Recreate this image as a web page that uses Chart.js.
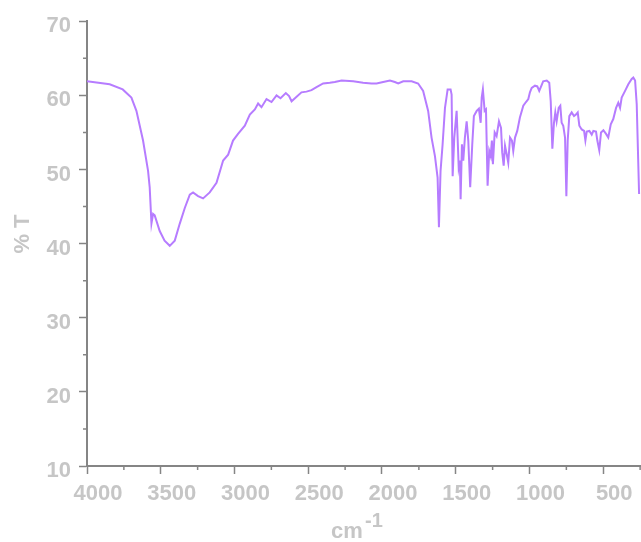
<!DOCTYPE html>
<html>
<head>
<meta charset="utf-8">
<script src="https://cdn.jsdelivr.net/npm/chart.js@4/dist/chart.umd.min.js"></script>
<style>
  html, body { margin: 0; padding: 0; background: #fff; }
  canvas { display: block; }
</style>
</head>
<body>
<canvas id="irChart" width="641" height="542"></canvas>
<script>
// wavenumber (cm-1)
var waveNumbers = [
  4000, 3846, 3758, 3699, 3665, 3620, 3586, 3575, 3563, 3552, 3541, 3507, 3474, 3439, 3405,
  3371, 3337, 3303, 3281, 3247, 3213, 3168, 3122, 3077, 3043, 3010, 2976, 2930, 2896, 2862,
  2840, 2817, 2783, 2749, 2715, 2688, 2652, 2630, 2613, 2579, 2546, 2512, 2478, 2444, 2399,
  2354, 2320, 2274, 2195, 2128, 2071, 2037, 1992, 1946, 1913, 1890, 1856, 1799, 1755, 1721,
  1687, 1664, 1641, 1623, 1614, 1603, 1589, 1573, 1555, 1535, 1528, 1521, 1510, 1494, 1480,
  1472, 1467, 1458, 1449, 1438, 1426, 1415, 1402, 1388, 1377, 1358, 1343, 1331, 1324, 1316,
  1304, 1295, 1284, 1273, 1263, 1255, 1248, 1236, 1223, 1207, 1193, 1185, 1175, 1166, 1155,
  1144, 1132, 1119, 1110, 1098, 1083, 1065, 1042, 1024, 1008, 997, 985, 963, 947, 934,
  917, 907, 883, 866, 856, 845, 834, 825, 816, 802, 791, 782, 771, 759, 750,
  741, 730, 714, 698, 685, 673, 662, 646, 630, 621, 612, 594, 578, 567, 549,
  540, 527, 515, 499, 481, 466, 449, 432, 413, 398, 386, 375, 352, 330, 307,
  296, 284, 273, 257
];
// % transmittance at each wavenumber
var transmittance = [
  61.9, 61.5, 60.8, 59.7, 57.9, 53.9, 49.8, 47.6, 42.7, 44.0, 43.8, 41.7, 40.4, 39.7, 40.4,
  42.7, 44.8, 46.6, 46.9, 46.4, 46.1, 46.9, 48.2, 51.2, 52.0, 53.9, 54.8, 55.9, 57.4, 58.1,
  58.9, 58.4, 59.5, 59.1, 60.0, 59.6, 60.3, 59.9, 59.2, 59.8, 60.4, 60.5, 60.7, 61.1, 61.6,
  61.7, 61.8, 62.0, 61.9, 61.7, 61.6, 61.6, 61.8, 62.0, 61.8, 61.6, 61.9, 61.9, 61.6, 60.6,
  57.9, 54.3, 51.8, 48.9, 42.2, 49.8, 53.4, 58.3, 60.8, 60.8, 60.1, 49.1, 54.3, 57.9, 50.3,
  51.2, 46.0, 53.4, 51.2, 54.3, 56.5, 53.9, 47.6, 53.4, 57.2, 57.9, 58.2, 56.3, 59.7, 60.8,
  57.9, 58.1, 47.8, 52.5, 51.8, 53.9, 50.7, 55.0, 54.5, 56.5, 55.6, 52.3, 50.5, 53.2, 52.1,
  50.9, 54.3, 53.9, 52.5, 54.3, 55.2, 57.0, 58.6, 59.1, 59.5, 60.4, 61.0, 61.3, 61.2, 60.6,
  61.4, 61.9, 62.0, 61.7, 59.2, 52.8, 56.3, 57.7, 56.5, 58.3, 58.6, 56.3, 55.9, 54.3, 46.4,
  53.9, 57.2, 57.7, 57.2, 57.4, 57.7, 55.9, 55.4, 55.2, 53.9, 55.1, 55.2, 54.7, 55.2, 55.1,
  53.9, 52.6, 55.0, 55.3, 54.8, 54.3, 56.1, 56.8, 58.3, 59.0, 58.3, 59.7, 60.6, 61.5, 62.2,
  62.4, 62.0, 58.8, 46.7
];
var xTicks = [4000, 3500, 3000, 2500, 2000, 1500, 1000, 500];
var yTicks = [10, 20, 30, 40, 50, 60, 70];
var xMinorTicks = [3750, 3250, 2750, 2250, 1750, 1250, 750, 250];
var yMinorTicks = [15, 25, 35, 45, 55, 65];

var points = [];
for (var i = 0; i < waveNumbers.length; i++) {
  points.push({ x: waveNumbers[i], y: transmittance[i] });
}

var axisColor = '#858585';
var labelColor = '#c6c6c6';

// minor ticks and axis titles
var extras = {
  id: 'extras',
  afterDraw: function (chart) {
    var ctx = chart.ctx;
    var xs = chart.scales.x, ys = chart.scales.y;
    ctx.save();
    ctx.strokeStyle = axisColor;
    ctx.lineWidth = 1.5;
    ctx.beginPath();
    xMinorTicks.forEach(function (v) {
      if (v < xs.min || v > xs.max) return;
      var px = xs.getPixelForValue(v);
      ctx.moveTo(px, ys.bottom);
      ctx.lineTo(px, ys.bottom + 4);
    });
    yMinorTicks.forEach(function (v) {
      var py = ys.getPixelForValue(v);
      ctx.moveTo(xs.left, py);
      ctx.lineTo(xs.left - 4, py);
    });
    ctx.stroke();

    ctx.fillStyle = labelColor;
    ctx.font = 'bold 22px "Liberation Sans", Arial, sans-serif';
    ctx.textAlign = 'left';
    ctx.textBaseline = 'alphabetic';
    ctx.fillText('cm', 331, 538);
    ctx.font = 'bold 20px "Liberation Sans", Arial, sans-serif';
    ctx.fillText('-1', 365, 527);

    ctx.translate(29, 234);
    ctx.rotate(-Math.PI / 2);
    ctx.font = 'bold 22px "Liberation Sans", Arial, sans-serif';
    ctx.textAlign = 'center';
    ctx.fillText('% T', 0, 0);
    ctx.restore();
  }
};

var ctx = document.getElementById('irChart').getContext('2d');
var chart = new Chart(ctx, {
  type: 'scatter',
  data: {
    datasets: [{
      data: points,
      showLine: true,
      borderColor: '#b67cff',
      borderWidth: 2,
      pointRadius: 0,
      tension: 0
    }]
  },
  options: {
    responsive: false,
    animation: false,
    layout: { padding: { top: 20, right: 0, left: 0, bottom: 0 } },
    plugins: { legend: { display: false }, tooltip: { enabled: false } },
    scales: {
      x: {
        type: 'linear',
        reverse: true,
        min: 244,
        max: 4000,
        afterBuildTicks: function (s) { s.ticks = xTicks.map(function (v) { return { value: v }; }); },
        afterFit: function (s) { s.height = 76; },
        border: { color: axisColor, width: 2 },
        grid: { drawOnChartArea: false, tickLength: 8, tickColor: axisColor, tickWidth: 1.5 },
        ticks: {
          color: labelColor,
          font: { family: '"Liberation Sans", Arial, sans-serif', size: 22, weight: 'bold' },
          padding: 7,
          labelOffset: 11,
          maxRotation: 0,
          autoSkip: false,
          callback: function (v) { return String(v); }
        }
      },
      y: {
        min: 10,
        max: 70,
        afterBuildTicks: function (s) { s.ticks = yTicks.map(function (v) { return { value: v }; }); },
        afterFit: function (s) { s.width = 87; },
        border: { color: axisColor, width: 2 },
        grid: { drawOnChartArea: false, tickLength: 8, tickColor: axisColor, tickWidth: 1.5 },
        ticks: {
          color: labelColor,
          font: { family: '"Liberation Sans", Arial, sans-serif', size: 22, weight: 'bold' },
          padding: 8,
          labelOffset: 5,
          callback: function (v) { return String(v); }
        }
      }
    }
  },
  plugins: [extras]
});
</script>
</body>
</html>
